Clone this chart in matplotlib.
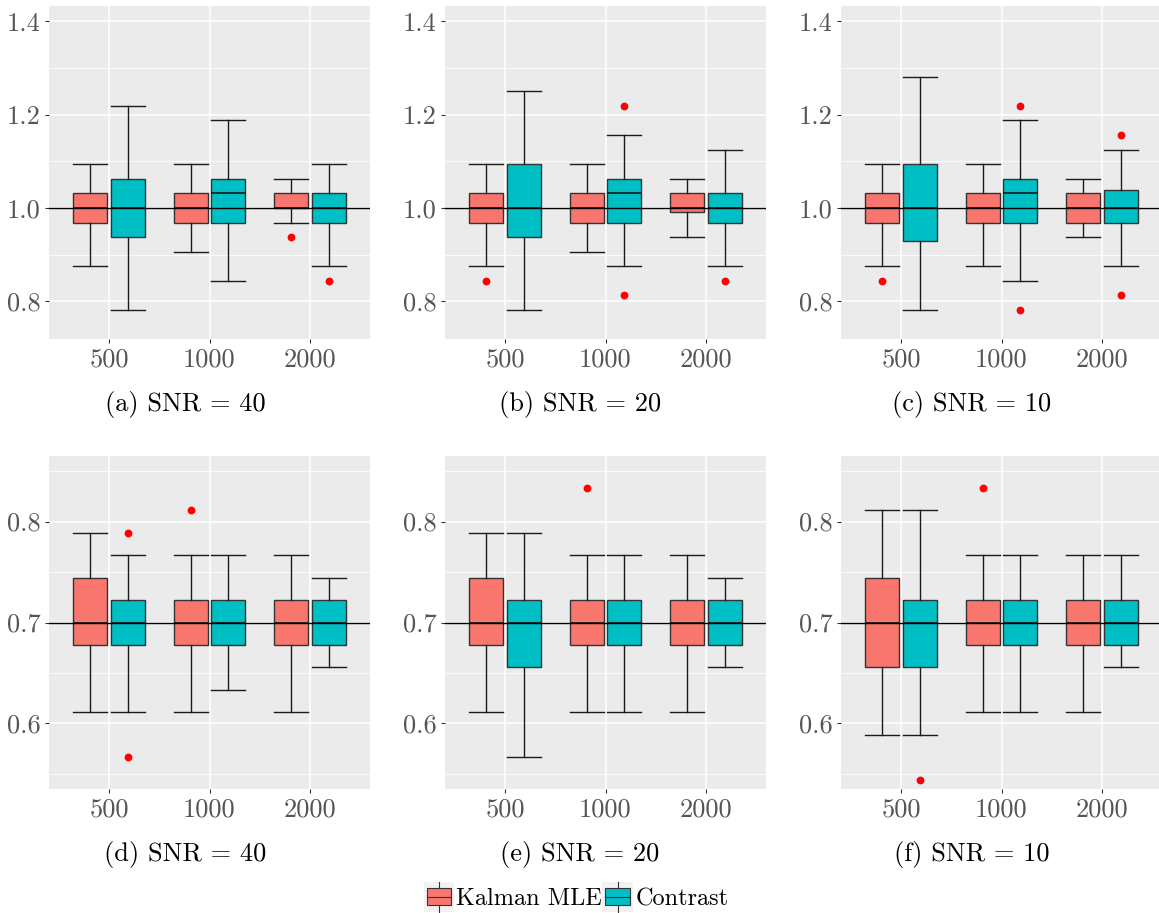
import matplotlib
matplotlib.use("Agg")
import matplotlib.pyplot as plt
from matplotlib.patches import Patch, Rectangle
from matplotlib.lines import Line2D
from matplotlib.legend_handler import HandlerBase

plt.rcParams['font.family'] = ['cmr10', 'DejaVu Serif']
plt.rcParams['axes.formatter.use_mathtext'] = True

# sample sizes on the x axis
sizes = ["500", "1000", "2000"]
methods = ["Kalman MLE", "Contrast"]
method_colors = ["#F8766D", "#00BFC4"]

# box stats per sample size: [low whisker, Q1, median, Q3, high whisker]
# (a) SNR = 40
kalman_a = [[0.875, 0.96875, 1.0, 1.03125, 1.09375],
            [0.90625, 0.96875, 1.0, 1.03125, 1.09375],
            [0.96875, 1.0, 1.0, 1.03125, 1.0625]]
kalman_a_out = [[], [], [0.9375]]
contrast_a = [[0.78125, 0.9375, 1.0, 1.0625, 1.21875],
              [0.84375, 0.96875, 1.03125, 1.0625, 1.1875],
              [0.875, 0.96875, 1.0, 1.03125, 1.09375]]
contrast_a_out = [[], [], [0.84375]]

# (b) SNR = 20
kalman_b = [[0.875, 0.96875, 1.0, 1.03125, 1.09375],
            [0.90625, 0.96875, 1.0, 1.03125, 1.09375],
            [0.9375, 0.9922, 1.0, 1.03125, 1.0625]]
kalman_b_out = [[0.84375], [], []]
contrast_b = [[0.78125, 0.9375, 1.0, 1.09375, 1.25],
              [0.875, 0.96875, 1.03125, 1.0625, 1.15625],
              [0.875, 0.96875, 1.0, 1.03125, 1.125]]
contrast_b_out = [[], [0.8125, 1.21875], [0.84375]]

# (c) SNR = 10
kalman_c = [[0.875, 0.96875, 1.0, 1.03125, 1.09375],
            [0.875, 0.96875, 1.0, 1.03125, 1.09375],
            [0.9375, 0.96875, 1.0, 1.03125, 1.0625]]
kalman_c_out = [[0.84375], [], []]
contrast_c = [[0.78125, 0.9297, 1.0, 1.09375, 1.28125],
              [0.84375, 0.96875, 1.03125, 1.0625, 1.1875],
              [0.875, 0.96875, 1.0, 1.0391, 1.125]]
contrast_c_out = [[], [0.78125, 1.21875], [0.8125, 1.15625]]

# (d) SNR = 40
kalman_d = [[0.6111, 0.6778, 0.7, 0.7444, 0.7889],
            [0.6111, 0.6778, 0.7, 0.7222, 0.7667],
            [0.6111, 0.6778, 0.7, 0.7222, 0.7667]]
kalman_d_out = [[], [0.8111], []]
contrast_d = [[0.6111, 0.6778, 0.7, 0.7222, 0.7667],
              [0.6333, 0.6778, 0.7, 0.7222, 0.7667],
              [0.6556, 0.6778, 0.7, 0.7222, 0.7444]]
contrast_d_out = [[0.5667, 0.7889], [], []]

# (e) SNR = 20
kalman_e = [[0.6111, 0.6778, 0.7, 0.7444, 0.7889],
            [0.6111, 0.6778, 0.7, 0.7222, 0.7667],
            [0.6111, 0.6778, 0.7, 0.7222, 0.7667]]
kalman_e_out = [[], [0.8333], []]
contrast_e = [[0.5667, 0.6556, 0.7, 0.7222, 0.7889],
              [0.6111, 0.6778, 0.7, 0.7222, 0.7667],
              [0.6556, 0.6778, 0.7, 0.7222, 0.7444]]
contrast_e_out = [[], [], []]

# (f) SNR = 10
kalman_f = [[0.5889, 0.6556, 0.7, 0.7444, 0.8111],
            [0.6111, 0.6778, 0.7, 0.7222, 0.7667],
            [0.6111, 0.6778, 0.7, 0.7222, 0.7667]]
kalman_f_out = [[], [0.8333], []]
contrast_f = [[0.5889, 0.6556, 0.7, 0.7222, 0.8111],
              [0.6111, 0.6778, 0.7, 0.7222, 0.7667],
              [0.6556, 0.6778, 0.7, 0.7222, 0.7667]]
contrast_f_out = [[0.5444], [], []]

captions = ["(a) SNR = 40", "(b) SNR = 20", "(c) SNR = 10",
            "(d) SNR = 40", "(e) SNR = 20", "(f) SNR = 10"]
true_values = [1.0, 0.7]
yticks_top = [0.8, 1.0, 1.2, 1.4]
yticks_bottom = [0.6, 0.7, 0.8]

panels = [(kalman_a, kalman_a_out, contrast_a, contrast_a_out),
          (kalman_b, kalman_b_out, contrast_b, contrast_b_out),
          (kalman_c, kalman_c_out, contrast_c, contrast_c_out),
          (kalman_d, kalman_d_out, contrast_d, contrast_d_out),
          (kalman_e, kalman_e_out, contrast_e, contrast_e_out),
          (kalman_f, kalman_f_out, contrast_f, contrast_f_out)]

W, H = 1159, 913
fig = plt.figure(figsize=(W / 100, H / 100), dpi=100)

lefts = [49, 445, 841]
tops = [6, 456]
pw, ph = 321, 333
cap_x = [185, 580, 972]
cap_y = [405, 854]
FS = 19


def make_stats(rows, outs):
    st = []
    for r, o in zip(rows, outs):
        st.append(dict(whislo=r[0], q1=r[1], med=r[2], q3=r[3], whishi=r[4], fliers=o))
    return st


for i, (k, ko, c, co) in enumerate(panels):
    row, col = divmod(i, 3)
    ax = fig.add_axes([lefts[col] / W, 1 - (tops[row] + ph) / H, pw / W, ph / H])
    ax.set_facecolor("#EBEBEB")
    for s in ax.spines.values():
        s.set_visible(False)

    x = [1, 2, 3]
    off, bw = 0.1875, 0.3375
    for stats, outs, dx, colr in [(k, ko, -off, method_colors[0]), (c, co, off, method_colors[1])]:
        ax.bxp(make_stats(stats, outs), positions=[p + dx for p in x], widths=bw,
               capwidths=bw, patch_artist=True, manage_ticks=False,
               boxprops=dict(facecolor=colr, edgecolor="#333333", lw=1.0),
               whiskerprops=dict(color="#1a1a1a", lw=1.0),
               capprops=dict(color="#1a1a1a", lw=1.0),
               medianprops=dict(color="#1a1a1a", lw=1.2),
               flierprops=dict(marker="o", markerfacecolor="red", markeredgecolor="red",
                               markersize=4.6, linestyle="none"))

    ax.axhline(true_values[row], color="black", lw=1.0, zorder=5)

    ax.set_xlim(0.4, 3.6)
    if row == 0:
        ax.set_ylim(0.719, 1.433)
        ax.set_yticks(yticks_top)
        ax.set_yticks([0.9, 1.1, 1.3], minor=True)
    else:
        ax.set_ylim(0.535, 0.865)
        ax.set_yticks(yticks_bottom)
        ax.set_yticks([0.55, 0.65, 0.75, 0.85], minor=True)
    ax.set_yticklabels([f"{v:.1f}" for v in ax.get_yticks()])
    ax.set_xticks(x)
    ax.set_xticklabels(sizes)
    ax.set_axisbelow(True)
    ax.grid(which="major", color="white", lw=1.1)
    ax.grid(which="minor", axis="y", color="white", lw=0.6)
    ax.tick_params(which="major", length=3, width=0.8, color="#333333",
                   labelsize=FS, labelcolor="#555555", pad=3)
    ax.tick_params(which="minor", length=0)

    fig.text(cap_x[col] / W, 1 - cap_y[row] / H, captions[i], ha="center", va="center",
             fontsize=FS, color="black")


class BoxKey(HandlerBase):
    def create_artists(self, legend, orig_handle, xdescent, ydescent, width, height,
                       fontsize, trans):
        cx = -xdescent + width / 2
        cy = -ydescent + height / 2
        side = max(width, height)
        bg = Rectangle((cx - side / 2, cy - side / 2), side, side,
                       facecolor="#F2F2F2", edgecolor="none", transform=trans)
        vl = Line2D([cx, cx], [cy - side / 2, cy + side / 2], color="#333333", lw=0.8,
                    transform=trans)
        bx = Rectangle((cx - side * 0.4, cy - side * 0.28), side * 0.8, side * 0.56,
                       facecolor=orig_handle.get_facecolor(), edgecolor="#333333", lw=0.8,
                       transform=trans)
        md = Line2D([cx - side * 0.4, cx + side * 0.4], [cy, cy], color="#333333", lw=0.8,
                    transform=trans)
        return [bg, vl, bx, md]


handles = [Patch(facecolor=method_colors[0]), Patch(facecolor=method_colors[1])]
fig.legend(handles, methods, loc="center", bbox_to_anchor=(576 / W, 1 - 897 / H),
           ncol=2, frameon=False, fontsize=17.5, handlelength=1.25, handleheight=1.25,
           handletextpad=0.1, columnspacing=0.0, handler_map={Patch: BoxKey()})

fig.savefig("out.png", dpi=100)
